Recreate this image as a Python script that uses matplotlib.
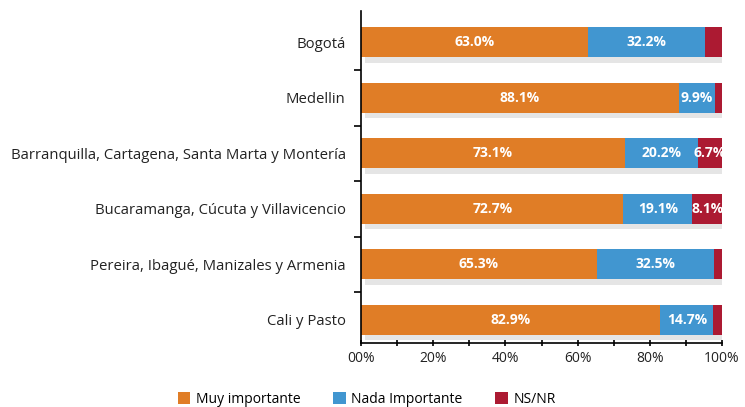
import matplotlib
matplotlib.use("Agg")
import matplotlib.pyplot as plt
import matplotlib.patheffects as pe
from matplotlib.patches import Patch
from matplotlib.ticker import MultipleLocator, FixedLocator

plt.rcParams["font.family"] = ["Open Sans", "DejaVu Sans"]

ciudades = ["Bogotá", "Medellin", "Barranquilla, Cartagena, Santa Marta y Montería",
            "Bucaramanga, Cúcuta y Villavicencio", "Pereira, Ibagué, Manizales y Armenia",
            "Cali y Pasto"]
muy_importante = [63.0, 88.1, 73.1, 72.7, 65.3, 82.9]
nada_importante = [32.2, 9.9, 20.2, 19.1, 32.5, 14.7]
ns_nr = [4.8, 2.0, 6.7, 8.1, 2.2, 2.4]
series = ["Muy importante", "Nada Importante", "NS/NR"]
colores = ["#E07D26", "#4196D0", "#AC1A32"]
xtick_labels = ["00%", "20%", "40%", "60%", "80%", "100%"]

fig = plt.figure(figsize=(7.45, 4.07), dpi=100)
ax = fig.add_axes([0.4846, 0.157, 0.4846, 0.815])

y = list(range(len(ciudades)))
shadow = [pe.SimplePatchShadow(offset=(3, -4), shadow_rgbFace="#aaaaaa", alpha=0.3), pe.Normal()]

left = [0.0] * len(ciudades)
for vals, col in zip([muy_importante, nada_importante, ns_nr], colores):
    bars = ax.barh(y, vals, left=left, height=0.54, color=col, linewidth=0)
    for b in bars:
        b.set_path_effects(shadow)
    left = [l + v for l, v in zip(left, vals)]

for i in range(len(ciudades)):
    ax.text(muy_importante[i] / 2, i, f"{muy_importante[i]:.1f}%", ha="center", va="center",
            color="white", fontsize=10, fontweight="bold")
    ax.text(muy_importante[i] + nada_importante[i] / 2, i, f"{nada_importante[i]:.1f}%",
            ha="center", va="center", color="white", fontsize=10, fontweight="bold")
    if ns_nr[i] > 5:
        ax.text(muy_importante[i] + nada_importante[i] + ns_nr[i] / 2, i, f"{ns_nr[i]:.1f}%",
                ha="center", va="center", color="white", fontsize=10, fontweight="bold")

ax.set_xlim(0, 100)
ax.set_ylim(5.42, -0.56)
ax.set_xticks([0, 20, 40, 60, 80, 100])
ax.set_xticklabels(xtick_labels, fontsize=10, color="#222222")
ax.xaxis.set_minor_locator(MultipleLocator(10))
ax.set_yticks(y)
ax.set_yticklabels(ciudades, fontsize=10.7, color="#222222")
ax.yaxis.set_minor_locator(FixedLocator([i + 0.5 for i in range(len(ciudades) - 1)]))
ax.tick_params(axis="y", which="major", length=0, pad=11)
ax.tick_params(axis="y", which="minor", length=5, width=1.2, direction="out")
ax.tick_params(axis="x", which="both", length=5, width=1.2, direction="inout")
for s in ["top", "right"]:
    ax.spines[s].set_visible(False)
ax.spines["left"].set_linewidth(1.2)
ax.spines["bottom"].set_linewidth(1.2)

handles = [Patch(facecolor=c, edgecolor="none") for c in colores]
fig.legend(handles, series, loc="lower left", bbox_to_anchor=(0.222, -0.03), ncol=3,
           frameon=False, fontsize=10, handlelength=0.9, handleheight=0.9,
           handletextpad=0.4, columnspacing=2.35)

fig.savefig("out.png", dpi=100)
